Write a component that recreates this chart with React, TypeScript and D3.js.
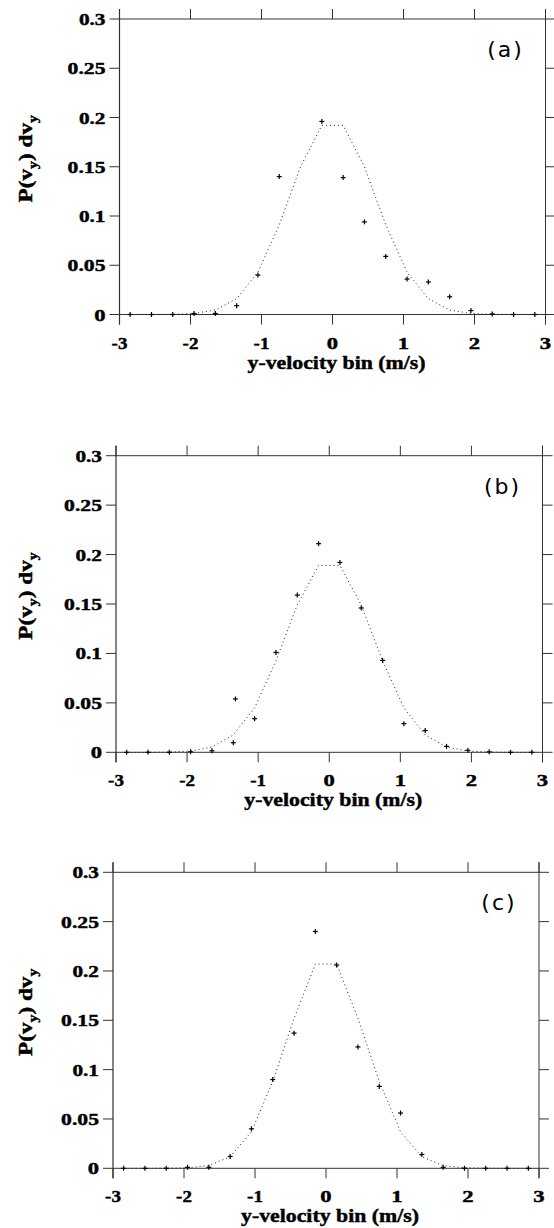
import React from 'react';
import * as d3 from 'd3';

// bin centres (m/s)
const binCenters = [-2.85, -2.55, -2.25, -1.95, -1.65, -1.35, -1.05, -0.75, -0.45, -0.15,
  0.15, 0.45, 0.75, 1.05, 1.35, 1.65, 1.95, 2.25, 2.55, 2.85];

// dotted (fitted) curves, one value per bin centre
const fitA = [0, 0, 0.0002, 0.001, 0.0046, 0.016, 0.043, 0.091, 0.150, 0.192,
  0.192, 0.150, 0.091, 0.043, 0.016, 0.0046, 0.001, 0.0002, 0, 0];
const fitB = [0, 0, 0.0002, 0.0013, 0.0053, 0.0175, 0.045, 0.0925, 0.149, 0.189,
  0.189, 0.149, 0.0925, 0.045, 0.0175, 0.0053, 0.0013, 0.0002, 0, 0];
const fitC = [0, 0, 0.0001, 0.0005, 0.0028, 0.0117, 0.037, 0.088, 0.152, 0.207,
  0.207, 0.152, 0.088, 0.037, 0.0117, 0.0028, 0.0005, 0.0001, 0, 0];

// measured points (+ markers)
const ptsAX = [-2.85, -2.55, -2.25, -1.95, -1.65, -1.35, -1.05, -0.75, -0.15, 0.15, 0.45, 0.75, 1.05, 1.35, 1.65, 1.95, 2.25, 2.55, 2.85];
const ptsAY = [0, 0, 0, 0.001, 0.001, 0.009, 0.040, 0.140, 0.196, 0.139, 0.094, 0.059, 0.036, 0.033, 0.018, 0.004, 0.0005, 0, 0];

const ptsBX = [-2.85, -2.55, -2.25, -1.95, -1.65, -1.35, -1.32, -1.05, -0.75, -0.45, -0.15, 0.15, 0.45, 0.75, 1.05, 1.35, 1.65, 1.95, 2.25, 2.55, 2.85];
const ptsBY = [0, 0, 0, 0.0005, 0.0015, 0.0097, 0.054, 0.034, 0.101, 0.159, 0.211, 0.192, 0.146, 0.093, 0.029, 0.022, 0.006, 0.002, 0.0005, 0, 0];

const ptsCX = [-2.85, -2.55, -2.25, -1.95, -1.65, -1.35, -1.05, -0.75, -0.45, -0.15, 0.15, 0.45, 0.75, 1.05, 1.35, 1.65, 1.95, 2.25, 2.55, 2.85];
const ptsCY = [0, 0, 0, 0.001, 0.001, 0.012, 0.040, 0.090, 0.137, 0.240, 0.206, 0.123, 0.083, 0.056, 0.014, 0.001, 0, 0, 0, 0];

const xTicks = [-3, -2, -1, 0, 1, 2, 3];
const yTicks = [0, 0.05, 0.1, 0.15, 0.2, 0.25, 0.3];
const yTickLabels = ['0', '0.05', '0.1', '0.15', '0.2', '0.25', '0.3'];
const panelLabels = ['(a)', '(b)', '(c)'];
const xTitle = 'y-velocity bin (m/s)';

const FONT = '"Liberation Serif", "Times New Roman", serif';
const AXIS = '#333';
const heavy = { stroke: '#000', strokeWidth: 0.45, paintOrder: 'stroke' as const };

// width of a numeric label in the wide bold face of the original
const labelWidth = (s: string) =>
  s.split('').reduce((w, c) => w + (c === '.' ? 4 : c === '-' ? 4.5 : 11.3), 0);

type PanelProps = {
  left: number; right: number; top: number; bottom: number;
  fit: number[]; px: number[]; py: number[]; label: string;
};

function Panel({ left, right, top, bottom, fit, px, py, label }: PanelProps) {
  const x = d3.scaleLinear().domain([-3, 3]).range([left, right]);
  const y = d3.scaleLinear().domain([0, 0.3]).range([bottom, top]);
  const line = d3.line<number>().x((_, i) => x(binCenters[i])).y(d => y(d));
  const tl = 10;
  const cy = (top + bottom) / 2 - 8;
  return (
    <g>
      {/* frame */}
      <line x1={left} x2={right} y1={top} y2={top} stroke={AXIS} strokeWidth={1} />
      <line x1={left} x2={right} y1={bottom} y2={bottom} stroke={AXIS} strokeWidth={1} />
      <line x1={left} x2={left} y1={top - tl} y2={bottom + tl} stroke={AXIS} strokeWidth={1.2} />
      <line x1={right} x2={right} y1={top - tl} y2={bottom + tl} stroke={AXIS} strokeWidth={1} />
      {/* x ticks */}
      {xTicks.map(t => {
        const s = t < 0 ? '-' + Math.abs(t) : String(t);
        return (
          <g key={'x' + t}>
            <line x1={x(t)} x2={x(t)} y1={top} y2={top - tl} stroke={AXIS} strokeWidth={1} />
            <line x1={x(t)} x2={x(t)} y1={bottom} y2={bottom + tl} stroke={AXIS} strokeWidth={1} />
            <text x={x(t)} y={bottom + 34} textAnchor="middle" fontFamily={FONT} fontWeight="bold" fontSize={17.5}
              textLength={labelWidth(s)} lengthAdjust="spacingAndGlyphs" {...heavy}>{s}</text>
          </g>
        );
      })}
      {/* y ticks */}
      {yTicks.map((t, i) => (
        <g key={'y' + t}>
          <line x1={left - tl} x2={left} y1={y(t)} y2={y(t)} stroke={AXIS} strokeWidth={1} />
          <line x1={right} x2={right + tl} y1={y(t)} y2={y(t)} stroke={AXIS} strokeWidth={1} />
          <text x={left - 14} y={y(t) + 6} textAnchor="end" fontFamily={FONT} fontWeight="bold" fontSize={17.5}
            textLength={labelWidth(yTickLabels[i])} lengthAdjust="spacingAndGlyphs" {...heavy}>{yTickLabels[i]}</text>
        </g>
      ))}
      {/* dotted fit */}
      <path d={line(fit) || ''} fill="none" stroke="#222" strokeWidth={1} strokeDasharray="1 3" />
      {/* points */}
      {px.map((v, i) => {
        const cx = x(v), cyy = y(py[i]);
        return (
          <g key={'p' + i}>
            <line x1={cx - 2.5} x2={cx + 2.5} y1={cyy} y2={cyy} stroke="#000" strokeWidth={1.2} />
            <line x1={cx} x2={cx} y1={cyy - 2.5} y2={cyy + 2.5} stroke="#000" strokeWidth={1.2} />
          </g>
        );
      })}
      {/* panel label */}
      <text x={right - 40} y={top + 38} textAnchor="middle" fontFamily='"DejaVu Sans", sans-serif' fontSize={22} letterSpacing={2}>{label}</text>
      {/* x title */}
      <text x={(left + right) / 2 + 4} y={bottom + 54} textAnchor="middle" fontFamily={FONT} fontWeight="bold" fontSize={19} textLength={178} lengthAdjust="spacingAndGlyphs" {...heavy}>{xTitle}</text>
      {/* y title */}
      <text transform={`translate(${32},${cy}) rotate(-90) scale(1.22,1)`} textAnchor="middle" fontFamily={FONT} fontWeight="bold" fontSize={19} {...heavy}>
        P(v<tspan fontSize={13} dy={5}>y</tspan><tspan dy={-5}>) dv</tspan><tspan fontSize={13} dy={5}>y</tspan>
      </text>
    </g>
  );
}

const panels = [
  { left: 119.5, right: 545.5, top: 19, bottom: 314.5, fit: fitA, px: ptsAX, py: ptsAY },
  { left: 116, right: 542.5, top: 455.7, bottom: 752.3, fit: fitB, px: ptsBX, py: ptsBY },
  { left: 113, right: 539, top: 872.3, bottom: 1168.3, fit: fitC, px: ptsCX, py: ptsCY },
];

export default function App() {
  return (
    <svg width={554} height={1228} style={{ position: 'absolute', left: 0, top: 0, background: '#fff' }}>
      <rect x={0} y={0} width={554} height={1228} fill="#fff" />
      {panels.map((p, i) => (
        <Panel key={i} {...p} label={panelLabels[i]} />
      ))}
    </svg>
  );
}
